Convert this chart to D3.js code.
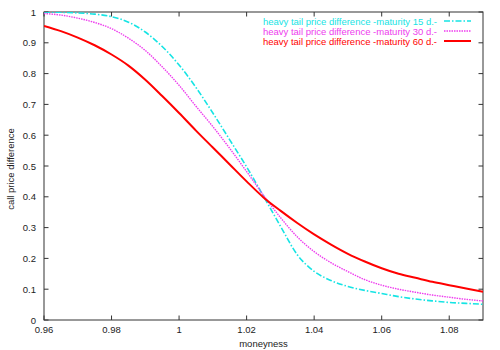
<!DOCTYPE html>
<html>
<head>
<meta charset="utf-8">
<script src="https://cdn.jsdelivr.net/npm/d3@7"></script>
<style>
  body { margin: 0; background: #fff; }
  text { font-family: "Liberation Sans", Arial, sans-serif; }
</style>
</head>
<body>
<svg id="chart" width="500" height="350"></svg>
<script>
// moneyness grid
const moneyness = [0.96, 0.965, 0.97, 0.975, 0.98, 0.985, 0.99, 0.995, 1.00, 1.005, 1.01, 1.015, 1.02,
  1.025, 1.03, 1.035, 1.04, 1.045, 1.05, 1.055, 1.06, 1.065, 1.07, 1.075, 1.08, 1.085, 1.09];

const diff15 = [1.000, 0.999, 0.997, 0.993, 0.985, 0.967, 0.935, 0.888, 0.828, 0.755, 0.672, 0.585, 0.497,
  0.402, 0.305, 0.212, 0.158, 0.128, 0.109, 0.096, 0.086, 0.076, 0.068, 0.062, 0.057, 0.054, 0.051];
const diff30 = [0.995, 0.990, 0.980, 0.966, 0.946, 0.915, 0.875, 0.822, 0.762, 0.694, 0.628, 0.557, 0.482,
  0.405, 0.333, 0.270, 0.222, 0.186, 0.157, 0.131, 0.113, 0.100, 0.090, 0.081, 0.074, 0.067, 0.062];
const diff60 = [0.955, 0.938, 0.917, 0.892, 0.862, 0.826, 0.780, 0.727, 0.672, 0.615, 0.560, 0.505, 0.450,
  0.398, 0.355, 0.315, 0.278, 0.245, 0.215, 0.190, 0.168, 0.150, 0.137, 0.124, 0.113, 0.102, 0.092];

const xTicks = [0.96, 0.98, 1.00, 1.02, 1.04, 1.06, 1.08];
const yTicks = [0, 0.1, 0.2, 0.3, 0.4, 0.5, 0.6, 0.7, 0.8, 0.9, 1];

const series = [
  { label: "heavy tail price difference -maturity 15 d.-", values: diff15, color: "#16e4e4", dash: "6,2,1.5,2", width: 1.6 },
  { label: "heavy tail price difference -maturity 30 d.-", values: diff30, color: "#ee3cee", dash: "1.5,1", width: 1.4 },
  { label: "heavy tail price difference -maturity 60 d.-", values: diff60, color: "#ff0000", dash: null, width: 2 }
];

const svg = d3.select("#chart");
const m = { left: 44, right: 483, top: 12, bottom: 320 };

const x = d3.scaleLinear().domain([0.96, 1.09]).range([m.left, m.right]);
const y = d3.scaleLinear().domain([0, 1]).range([m.bottom, m.top]);

const axisColor = "#333";
const tick = 4.5;

// tick marks on all four sides, pointing inwards
const xt = svg.append("g");
xTicks.forEach(t => {
  xt.append("line").attr("x1", x(t)).attr("x2", x(t)).attr("y1", m.bottom).attr("y2", m.bottom - tick)
    .attr("stroke", axisColor);
  xt.append("line").attr("x1", x(t)).attr("x2", x(t)).attr("y1", m.top).attr("y2", m.top + tick)
    .attr("stroke", axisColor);
  xt.append("text").attr("x", x(t)).attr("y", m.bottom + 13).attr("text-anchor", "middle")
    .attr("font-size", 9.5).attr("fill", "#222").text(d3.format("")(t));
});
const yt = svg.append("g");
yTicks.forEach(t => {
  yt.append("line").attr("x1", m.left).attr("x2", m.left + tick).attr("y1", y(t)).attr("y2", y(t))
    .attr("stroke", axisColor);
  yt.append("line").attr("x1", m.right).attr("x2", m.right - tick).attr("y1", y(t)).attr("y2", y(t))
    .attr("stroke", axisColor);
  yt.append("text").attr("x", m.left - 8).attr("y", y(t) + 3.5).attr("text-anchor", "end")
    .attr("font-size", 9.5).attr("fill", "#222").text(t);
});

// frame
svg.append("rect").attr("x", m.left).attr("y", m.top).attr("width", m.right - m.left).attr("height", m.bottom - m.top)
  .attr("fill", "none").attr("stroke", axisColor).attr("stroke-width", 1);

// axis titles
svg.append("text").attr("x", (m.left + m.right) / 2).attr("y", 347).attr("text-anchor", "middle")
  .attr("font-size", 9.5).attr("fill", "#222").text("moneyness");
svg.append("text").attr("transform", "translate(14,169) rotate(-90)").attr("text-anchor", "middle")
  .attr("font-size", 9.5).attr("fill", "#222").text("call price difference");

// curves
const line = d3.line()
  .x((d, i) => x(moneyness[i]))
  .y(d => y(d))
  .curve(d3.curveMonotoneX);

svg.append("defs").append("clipPath").attr("id", "clip")
  .append("rect").attr("x", m.left).attr("y", m.top).attr("width", m.right - m.left).attr("height", m.bottom - m.top);

series.forEach(s => {
  svg.append("path")
    .attr("d", line(s.values))
    .attr("fill", "none")
    .attr("stroke", s.color)
    .attr("stroke-width", s.width)
    .attr("stroke-dasharray", s.dash)
    .attr("clip-path", "url(#clip)");
});

// legend
series.forEach((s, i) => {
  const ly = 21 + i * 10;
  svg.append("text").attr("x", 437).attr("y", ly + 3.5).attr("text-anchor", "end")
    .attr("font-size", 9.5).attr("fill", s.color).text(s.label);
  svg.append("line").attr("x1", 444).attr("x2", 471).attr("y1", ly).attr("y2", ly)
    .attr("stroke", s.color).attr("stroke-width", s.width).attr("stroke-dasharray", s.dash);
});
</script>
</body>
</html>
